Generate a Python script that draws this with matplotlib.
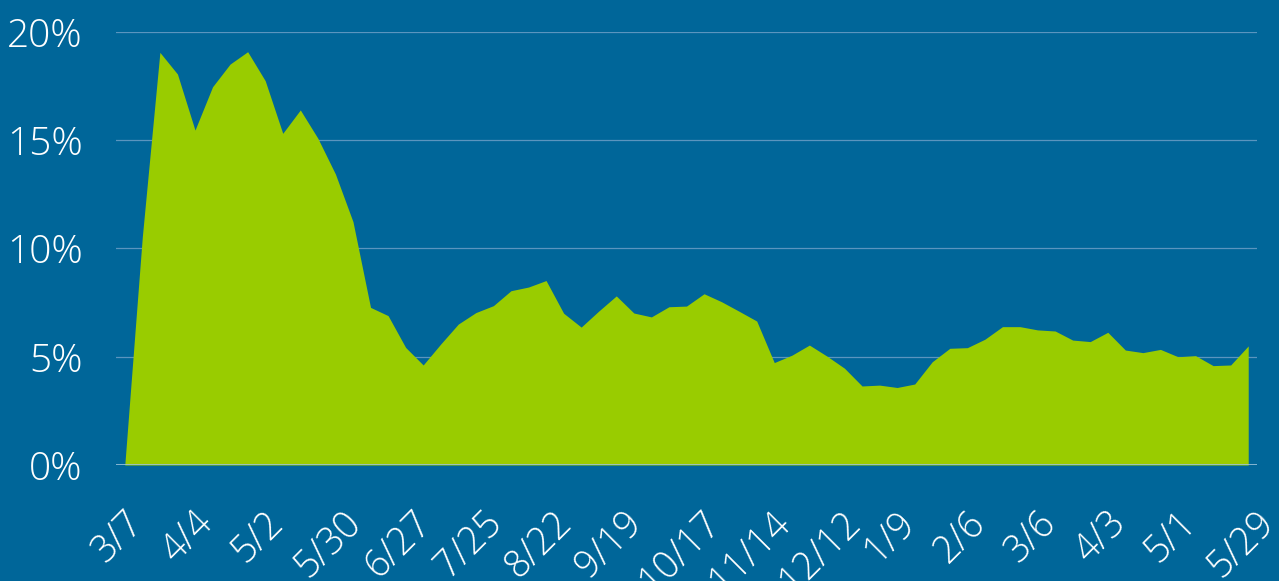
import matplotlib
matplotlib.use("Agg")
import matplotlib.pyplot as plt
import matplotlib.transforms as mtransforms
import numpy as np

plt.rcParams['font.family'] = ['Open Sans', 'DejaVu Sans']

values = [0.0, 10.55, 19.06, 18.06, 15.47, 17.47, 18.52, 19.09, 17.75, 15.32,
          16.40, 15.09, 13.44, 11.24, 7.28, 6.90, 5.43, 4.62, 5.59, 6.51,
          7.04, 7.36, 8.05, 8.22, 8.52, 7.01, 6.37, 7.11, 7.81, 7.02,
          6.84, 7.31, 7.34, 7.91, 7.54, 7.10, 6.65, 4.73, 5.07, 5.54,
          5.03, 4.47, 3.65, 3.69, 3.58, 3.74, 4.77, 5.39, 5.42, 5.81,
          6.39, 6.39, 6.24, 6.19, 5.77, 5.70, 6.13, 5.31, 5.19, 5.34,
          5.00, 5.05, 4.59, 4.62, 5.50]
tick_labels = ['3/7', '4/4', '5/2', '5/30', '6/27', '7/25', '8/22', '9/19',
               '10/17', '11/14', '12/12', '1/9', '2/6', '3/6', '4/3', '5/1', '5/29']
y_ticks = [0, 5, 10, 15, 20]
y_labels = ['0%', '5%', '10%', '15%', '20%']

bg = '#006699'
green = '#99cc00'

W, H = 1279, 581
fig = plt.figure(figsize=(W / 100, H / 100), dpi=100, facecolor=bg)
ax = fig.add_axes([116 / W, 1 - 465 / H, (1257 - 116) / W, (465 - 32) / H])
ax.set_facecolor(bg)

x = np.arange(len(values))
ax.fill_between(x, 0, values, color=green, linewidth=0, zorder=2)

ax.set_xlim(-0.5, len(values) - 0.5)
ax.set_ylim(0, 20)

for s in ax.spines.values():
    s.set_visible(False)

for yv in y_ticks[1:]:
    ax.axhline(yv, color='#5a95bf', linewidth=0.9, zorder=1)
ax.axhline(0, color='#9cc3dc', linewidth=1.2, zorder=3)

ax.set_yticks(y_ticks)
ax.set_yticklabels(y_labels)
ax.tick_params(axis='y', length=0, pad=24, labelsize=28, labelcolor='white')

xt = x[::4]
ax.set_xticks(xt)
ax.set_xticklabels(tick_labels, rotation=45, ha='center', va='top')
ax.tick_params(axis='x', length=0, pad=28, labelsize=27, labelcolor='white')
offset = mtransforms.ScaledTranslation(-7 / 100, 0, fig.dpi_scale_trans)
for lbl in ax.get_xticklabels():
    lbl.set_transform(lbl.get_transform() + offset)
    lbl.set_fontweight('light')
for lbl in ax.get_yticklabels():
    lbl.set_fontweight('light')

fig.savefig('out.png', dpi=100, facecolor=bg)
